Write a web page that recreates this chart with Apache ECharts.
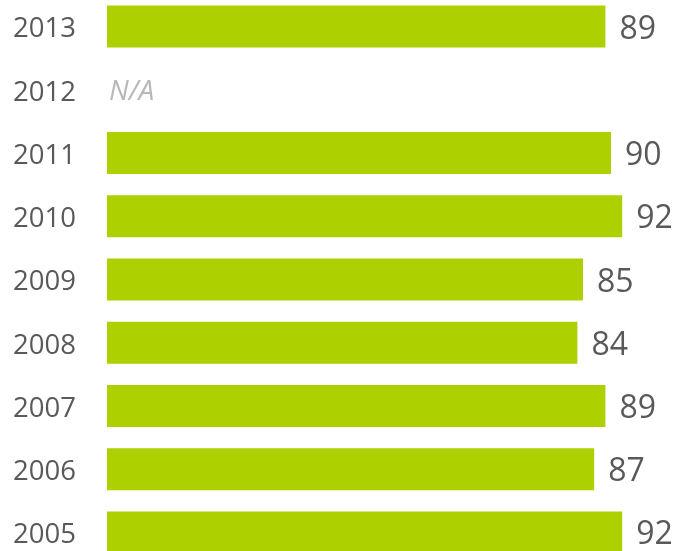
<!DOCTYPE html>
<html>
<head>
<meta charset="utf-8">
<script src="https://cdn.jsdelivr.net/npm/echarts@6/dist/echarts.min.js"></script>
<style>
  html, body { margin: 0; padding: 0; background: #ffffff; overflow: hidden; width: 680px; height: 551px; }
  /* the bar rows run slightly past the top and bottom edges of the page */
  #chart { position: absolute; left: 0; top: -5px; width: 680px; height: 569px; }
</style>
</head>
<body>
<div id="chart"></div>
<script>
// Yearly scores, newest first; 2012 has no figure.
const years = ['2013', '2012', '2011', '2010', '2009', '2008', '2007', '2006', '2005'];
const scores = [89, null, 90, 92, 85, 84, 89, 87, 92];
const missingYear = '2012';
const missingText = 'N/A';

const barColor = '#acd000';
const textColor = '#58595b';
const fontFamily = '"Open Sans", "Noto Sans", sans-serif';

const chart = echarts.init(document.getElementById('chart'), null, { renderer: 'canvas' });

chart.setOption({
  animation: false,
  grid: { left: 107, width: 560, top: 0, bottom: 0, containLabel: false },
  xAxis: {
    type: 'value',
    min: 0,
    max: 100,
    show: false
  },
  yAxis: {
    type: 'category',
    data: years,
    inverse: true,
    axisLine: { show: false },
    axisTick: { show: false },
    splitLine: { show: false },
    axisLabel: {
      margin: 31,
      formatter: '{y|{value}}',
      rich: {
        y: {
          padding: [6, 0, 0, 0],
          color: textColor,
          fontSize: 27.5,
          fontFamily: fontFamily
        }
      }
    }
  },
  series: [
    {
      type: 'bar',
      data: scores,
      barWidth: 42,
      itemStyle: { color: barColor },
      label: {
        show: true,
        position: 'right',
        distance: 14,
        offset: [0, 3],
        color: textColor,
        fontSize: 32,
        fontFamily: fontFamily
      }
    },
    {
      // marker for the year without a score
      type: 'scatter',
      data: [[0, missingYear]],
      symbolSize: 0,
      silent: true,
      label: {
        show: true,
        position: 'right',
        distance: 2,
        offset: [0, 2],
        formatter: missingText,
        color: '#a6a6a6',
        fontStyle: 'italic',
        fontSize: 28,
        fontFamily: fontFamily
      }
    }
  ]
});
</script>
</body>
</html>
